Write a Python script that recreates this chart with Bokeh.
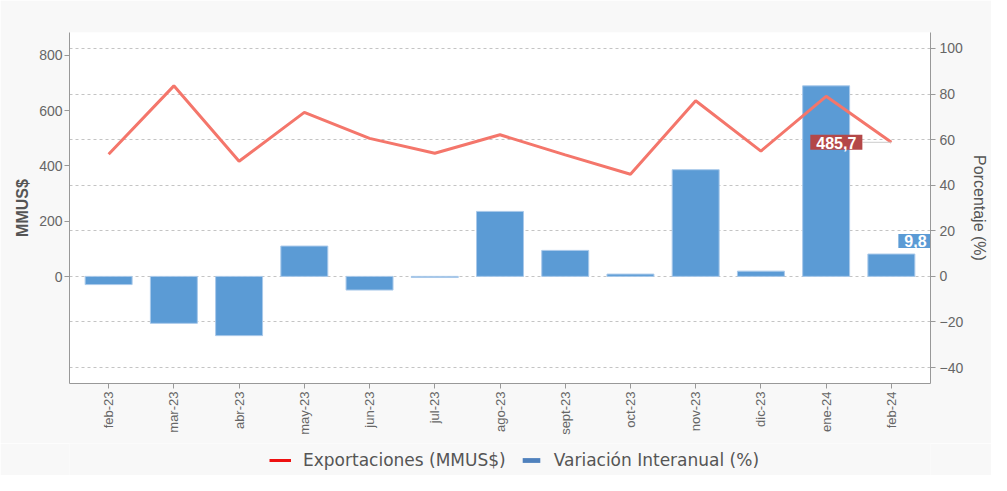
import math
from bokeh.plotting import figure
from bokeh.layouts import column
from bokeh.models import (FactorRange, Range1d, LinearAxis, FixedTicker, Grid,
                          Legend, LegendItem, ColumnDataSource)
from bokeh.transform import dodge
from bokeh.core.properties import value
from bokeh.embed import file_html
from bokeh.resources import INLINE

# ---- data ----
meses = ["feb-23", "mar-23", "abr-23", "may-23", "jun-23", "jul-23", "ago-23",
         "sept-23", "oct-23", "nov-23", "dic-23", "ene-24", "feb-24"]
exportaciones = [442.7, 690.0, 417.0, 594.0, 500.0, 446.0, 513.0, 440.0, 370.0,
                 636.0, 454.0, 652.0, 485.7]
variacion = [-3.6, -20.6, -26.0, 13.3, -6.0, -0.5, 28.5, 11.4, 1.0, 46.8, 2.3,
             83.6, 9.8]
ticks_mmus = [0, 200, 400, 600, 800]
ticks_pct = [-40, -20, 0, 20, 40, 60, 80, 100]
series_names = ["Exportaciones (MMUS$)", "Variación Interanual (%)"]

FONT = "Liberation Sans"
BG = "#f8f8f8"

src = ColumnDataSource(dict(mes=meses, exp=exportaciones, var=variacion))

p = figure(width=991, height=443,
           x_range=FactorRange(factors=meses, range_padding=0.1,
                               range_padding_units="absolute"),
           y_range=Range1d(-387, 883),
           output_backend="svg", toolbar_location=None,
           min_border_left=69, min_border_right=59,
           min_border_top=32, min_border_bottom=60,
           background_fill_color="white", border_fill_color=BG,
           outline_line_color=None)
p.extra_y_ranges = {"pct": Range1d(-47, 107)}

p.xgrid.visible = False
p.ygrid.visible = False
grid = Grid(dimension=1, ticker=FixedTicker(ticks=ticks_pct), y_range_name="pct",
            grid_line_color="#c4c4c4", grid_line_dash="3 3", grid_line_width=1)
p.add_layout(grid)

bars = p.vbar(x="mes", top="var", bottom=0, width=0.72, y_range_name="pct",
              source=src, fill_color="#5b9bd5", line_color="#a9c9ea", line_width=1)
line = p.line(x="mes", y="exp", source=src, line_color="#f4766b", line_width=3)

# left axis
ya = p.yaxis[0]
ya.ticker = FixedTicker(ticks=ticks_mmus)
ya.axis_label = "MMUS$"
ya.axis_label_text_font_style = "bold"

# right axis
ra = LinearAxis(y_range_name="pct", ticker=FixedTicker(ticks=ticks_pct),
                axis_label="Porcentaje (%)")
ra.axis_label_text_font_style = "normal"
p.add_layout(ra, "right")

for ax in [ya, ra, p.xaxis[0]]:
    ax.axis_line_color = "#999999"
    ax.major_tick_line_color = "#999999"
    ax.major_tick_out = 5
    ax.major_tick_in = 0
    ax.minor_tick_line_color = None
    ax.major_label_text_color = "#666666"
    ax.major_label_text_font = FONT
    ax.major_label_text_font_size = "14px"
    ax.axis_label_text_font = FONT
    ax.axis_label_text_font_size = "16px"
    ax.axis_label_text_color = "#555555"
ya.major_label_standoff = 2
ra.major_label_standoff = 4
xa = p.xaxis[0]
xa.major_label_orientation = math.pi / 2
xa.major_label_text_font_size = "13px"
xa.major_label_standoff = 3

# data labels
last = meses[-1]
lab_src = ColumnDataSource(dict(mes=[last], exp=[exportaciones[-1]], var=[variacion[-1]],
                                t_exp=[f"{exportaciones[-1]:.1f}".replace(".", ",")],
                                t_var=[f"{variacion[-1]:.1f}".replace(".", ",")]))

p.segment(x0=dodge("mes", -0.44, range=p.x_range), y0="exp",
          x1=dodge("mes", 0.0, range=p.x_range), y1="exp", source=lab_src,
          line_color="#cccccc", line_width=1)
p.text(x="mes", y="exp", text="t_exp", source=lab_src, text_color="white",
       text_font=value(FONT), text_font_style="bold", text_font_size="16px",
       text_align="right", text_baseline="middle", x_offset=-29, y_offset=0,
       background_fill_color="#b44848",
       padding=dict(left=6, right=6, top=2, bottom=1))

p.text(x="mes", y="var", text="t_var", source=lab_src, text_color="white",
       text_font=value(FONT), text_font_style="bold", text_font_size="16px",
       text_align="left", text_baseline="middle", x_offset=7, y_offset=-13,
       y_range_name="pct", background_fill_color="#5b9bd5",
       padding=dict(left=6, right=6, top=1, bottom=1))

# ---- legend strip (separate figure, same background, no axes) ----
lg = figure(width=991, height=32, x_range=Range1d(0, 1), y_range=Range1d(0, 1),
            x_axis_location=None, y_axis_location=None,
            output_backend="svg", toolbar_location=None, min_border=0,
            background_fill_color=BG, border_fill_color=BG, outline_line_color=None)
lg.grid.visible = False
# proxy glyphs sit outside the visible range; they only feed the legend
leg_line = lg.line(x=[-5, -4], y=[-5, -5], line_color="#ee1111", line_width=3)
leg_bar = lg.vbar(x=[-5], top=[-4], bottom=-5, width=0.5, fill_color="#4f81bd",
                  line_color=None)
legend = Legend(items=[LegendItem(label=series_names[0], renderers=[leg_line]),
                       LegendItem(label=series_names[1], renderers=[leg_bar])],
                orientation="horizontal", location=(200, 5),
                border_line_color=None, background_fill_alpha=0,
                label_text_font="DejaVu Sans", label_text_font_size="17px",
                label_text_color="#555555", glyph_width=22, glyph_height=6,
                label_standoff=12, spacing=14, padding=5, margin=0)
lg.add_layout(legend)

layout = column(p, lg, spacing=0)
open("out.html", "w").write(file_html(layout, INLINE))
